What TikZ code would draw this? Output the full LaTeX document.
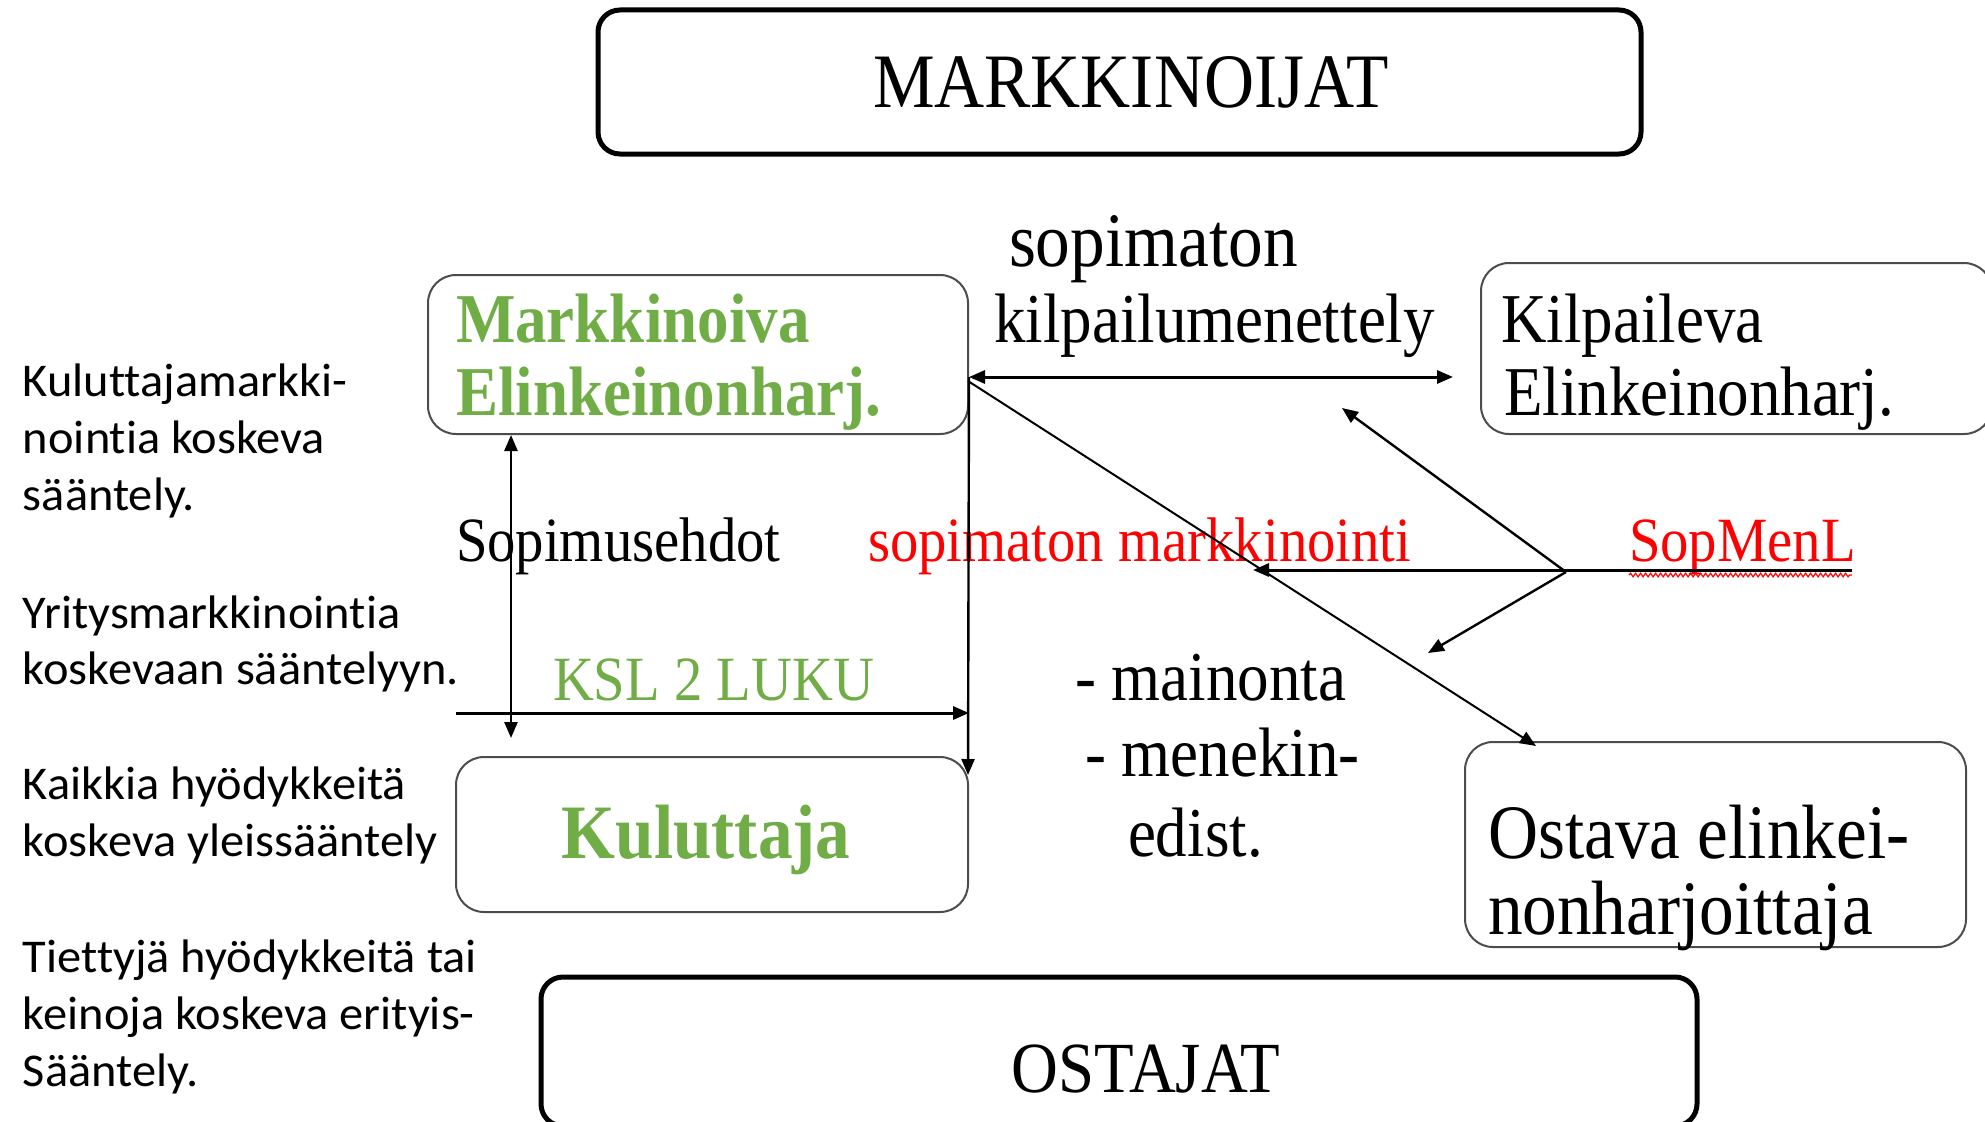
\documentclass[tikz,border=0pt]{standalone}
\usepackage{fontspec}
\setmainfont{Liberation Serif}
\newfontfamily\serfont[FakeStretch=0.9]{Liberation Serif}
\newfontfamily\calfont[FakeStretch=1.03,Ligatures=NoCommon]{Carlito}
\usetikzlibrary{arrows.meta,decorations.pathmorphing}
\definecolor{offgreen}{HTML}{70AD47}
\definecolor{pptred}{HTML}{FF0000}
\newcommand{\setfs}[1]{\fontsize{#1}{#1}\selectfont}
\tikzset{
  bigbox/.style={draw=black, line width=5pt, rounded corners=22pt, inner sep=0pt},
  smallbox/.style={draw=black!70, line width=2pt, rounded corners=28pt, inner sep=0pt},
  lbl/.style={anchor=base west, inner sep=0pt, outer sep=0pt},
  ctr/.style={anchor=base, inner sep=0pt, outer sep=0pt},
  side/.style={lbl, font=\calfont\setfs{47}},
  tip/.style={-{Triangle[length=16pt,width=13pt]}},
  dtip/.style={{Triangle[length=16pt,width=13pt]}-{Triangle[length=16pt,width=13pt]}},
}
\begin{document}
\begin{tikzpicture}[x=1pt,y=-1pt]
\useasboundingbox (0,0) rectangle (1985,1121);
\clip (0,0) rectangle (1985,1121);
% boxes
\node[bigbox, minimum width=1043pt, minimum height=144pt] (top) at (1119.5,82) {};
\node[smallbox, minimum width=540pt, minimum height=159pt] (mark) at (698,354.5) {};
\node[smallbox, minimum width=511pt, minimum height=171pt] (kilp) at (1736.5,348.5) {};
\node[smallbox, minimum width=512pt, minimum height=155pt] (kul) at (712,834.5) {};
\node[smallbox, minimum width=501pt, minimum height=205pt] (ost) at (1715.5,844.5) {};
\node[bigbox, minimum width=1156pt, minimum height=149pt] (bot) at (1119,1051.5) {};
% box texts
\node[ctr, font=\serfont\setfs{77}] (tTop) at (1131,108) {MARKKINOIJAT};
\node[lbl, font=\serfont\bfseries\setfs{70}, text=offgreen] (tMark1) at (456,342) {Markkinoiva};
\node[lbl, font=\serfont\bfseries\setfs{70}, text=offgreen] (tMark2) at (456,415) {Elinkeinonharj.};
\node[lbl, font=\serfont\setfs{70}] (tKilp1) at (1501,342) {Kilpaileva};
\node[lbl, font=\serfont\setfs{70}] (tKilp2) at (1504,415) {Elinkeinonharj.};
\node[ctr, font=\serfont\bfseries\setfs{77}, text=offgreen] (tKul) at (706,858) {Kuluttaja};
\node[lbl, font=\serfont\setfs{77}] (tOst1) at (1488,858) {Ostava elinkei-};
\node[lbl, font=\serfont\setfs{77}] (tOst2) at (1488,934) {nonharjoittaja};
\node[ctr, font=\serfont\setfs{72}] (tBot) at (1146,1092) {OSTAJAT};
% free labels
\node[lbl, font=\serfont\setfs{77}] (tSop) at (1009,266) {sopimaton};
\node[lbl, font=\serfont\setfs{70}] (tKilpm) at (994,342) {kilpailumenettely};
\node[lbl, font=\serfont\setfs{63}] (tSopeh) at (456,561) {Sopimusehdot};
\node[lbl, font=\serfont\setfs{63}, text=pptred] (tSopm) at (868,561) {sopimaton markkinointi};
\node[lbl, font=\serfont\setfs{63}, text=pptred] (tSML) at (1629,561) {SopMenL};
\node[lbl, font=\serfont\setfs{63}, text=offgreen] (tKSL) at (553,700) {KSL 2 LUKU};
\node[lbl, font=\serfont\setfs{70}] (tMain) at (1075,700) {- mainonta};
\node[lbl, font=\serfont\setfs{70}] (tMen) at (1085,776) {- menekin-};
\node[lbl, font=\serfont\setfs{70}] (tEd) at (1128,856) {edist.};
% left column
\node[side] (l1) at (23,396) {Kuluttajamarkki-};
\node[side] (l2) at (23,453) {nointia koskeva};
\node[side] (l3) at (23,510) {sääntely.};
\node[side] (l4) at (23,628) {Yritysmarkkinointia};
\node[side] (l5) at (23,684) {koskevaan sääntelyyn.};
\node[side] (l6) at (23,799) {Kaikkia hyödykkeitä};
\node[side] (l7) at (23,856) {koskeva yleissääntely};
\node[side] (l8) at (23,972) {Tiettyjä hyödykkeitä tai};
\node[side] (l9) at (23,1029) {keinoja koskeva erityis-};
\node[side] (l10) at (23,1086) {Sääntely.};
% coordinates for free ends
\coordinate (hR) at (1453,377);
\coordinate (sopB) at (511,738);
\coordinate (kslA) at (456,713);
\coordinate (vEnd) at (968,775);
\coordinate (dStart) at (968,381);
\coordinate (ostT) at (1536,746);
\coordinate (smR) at (1852,570);
\coordinate (smL) at (1253,570);
\coordinate (br) at (1566,572);
\coordinate (brU) at (1342,408);
\coordinate (brD) at (1428,653);
% connectors
\draw[dtip, line width=3pt] (mark.east |- hR) -- (hR);
\draw[dtip, line width=2.6pt] (mark.south -| sopB) -- (sopB);
\draw[tip, line width=3pt] (kslA) -- (kslA -| mark.east);
\draw[tip, line width=2.4pt] (mark.east |- hR) -- (vEnd);
\draw[tip, line width=2pt] (dStart) -- (ostT);
\draw[tip, line width=3pt] (smR) -- (smL);
\draw[tip, line width=2.4pt] (br) -- (brU);
\draw[tip, line width=2.4pt] (br) -- (brD);
\draw[pptred, line width=1.2pt, decorate, decoration={snake, amplitude=1.8pt, segment length=5pt}] (1629,575) -- (1852,575);
\end{tikzpicture}
\end{document}
